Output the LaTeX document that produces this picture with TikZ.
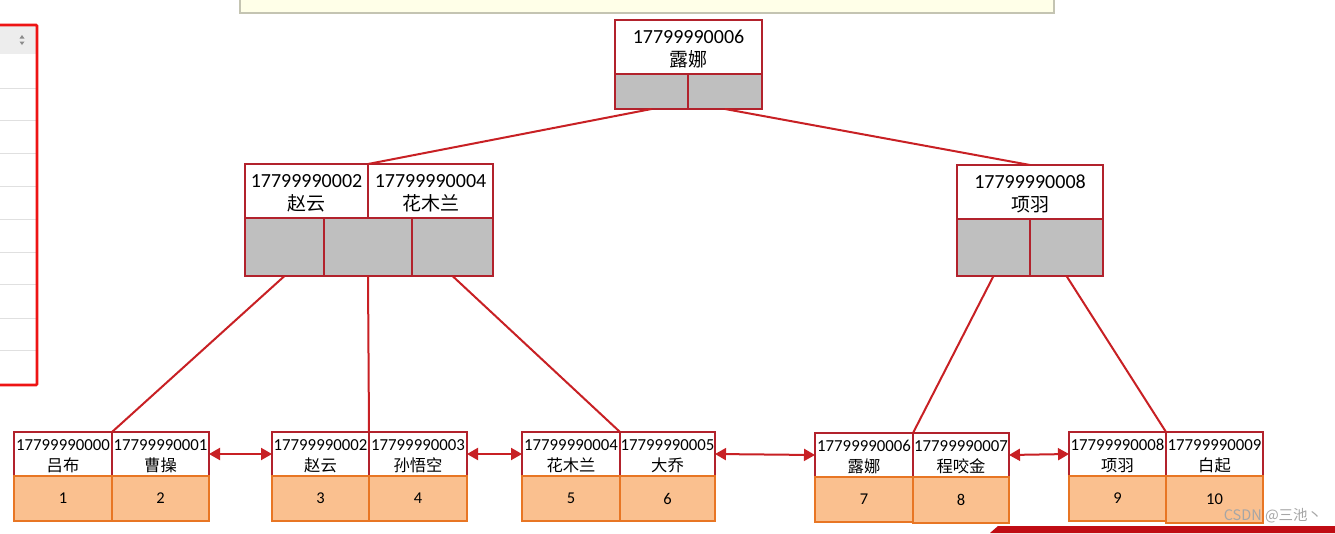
\documentclass[tikz,border=0pt]{standalone}
\usepackage{fontspec}
\setmainfont{Carlito}
\newfontfamily\cjk{Noto Sans CJK SC}
\usetikzlibrary{arrows.meta}
\definecolor{nodered}{RGB}{178,34,44}
\definecolor{linered}{RGB}{200,32,36}
\definecolor{ptrgray}{RGB}{191,191,191}
\definecolor{leaffill}{RGB}{250,192,143}
\definecolor{leafedge}{RGB}{232,118,36}
\definecolor{notefill}{RGB}{255,255,232}
\definecolor{noteedge}{RGB}{196,196,178}
\definecolor{tablered}{RGB}{238,20,20}
\definecolor{barred}{RGB}{192,12,20}
\tikzset{
  cellbase/.style={inner sep=0pt, outer sep=0pt, anchor=north west, align=center, line width=1.8pt},
  bigkey/.style={cellbase, draw=nodered, fill=white, font=\fontsize{20}{23}\selectfont},
  ptrcell/.style={cellbase, draw=nodered, fill=ptrgray},
  leafkey/.style={cellbase, draw=nodered, fill=white, font=\fontsize{16.8}{21.5}\selectfont},
  leafdata/.style={cellbase, draw=leafedge, fill=leaffill, font=\fontsize{16.5}{18}\selectfont},
  treeline/.style={draw=linered, line width=2pt},
  sibling/.style={draw=linered, line width=2pt, {Triangle[length=11pt,width=12pt]}-{Triangle[length=11pt,width=12pt]}},
}
\newcommand\bigcjk[1]{{\cjk\fontsize{19}{23}\selectfont #1}}
\newcommand\smallcjk[1]{{\cjk\fontsize{16.3}{21.5}\selectfont #1}}
\begin{document}
\begin{tikzpicture}[x=1pt,y=-1pt]
\useasboundingbox (0,0) rectangle (1335,533);
\fill[white] (0,0) rectangle (1335,533);

% ---- left table fragment ----
\fill[black!7] (-5,25) rectangle (36,54);
\foreach \yy in {88,120,153,186,219,252,284,318,350}
  \draw[black!12, line width=0.8pt] (-5,\yy) -- (36,\yy);
\fill[black!45] (19.5,38.5) -- (24.5,38.5) -- (22,35) -- cycle;
\fill[black!45] (19.5,41.5) -- (24.5,41.5) -- (22,45) -- cycle;
\draw[tablered, line width=2.6pt, rounded corners=1pt] (-5,25) rectangle (37,385);

% ---- yellow note fragment ----
\draw[noteedge, fill=notefill, line width=1.3pt] (240,-5) rectangle (1054,13);

% ---- root ----
\node[bigkey, minimum width=147, minimum height=54] (R) at (615,20) {\rule{0pt}{18pt}17799990006\\\bigcjk{露娜}};
\node[ptrcell, minimum width=73, minimum height=35] (Rp1) at (615,74) {};
\node[ptrcell, minimum width=74, minimum height=35] (Rp2) at (688,74) {};

% ---- left internal ----
\node[bigkey, minimum width=123, minimum height=54] (Ak1) at (245,164) {\rule{0pt}{18pt}17799990002\\\bigcjk{赵云}};
\node[bigkey, minimum width=125, minimum height=54] (Ak2) at (368,164) {\rule{0pt}{18pt}17799990004\\\bigcjk{花木兰}};
\node[ptrcell, minimum width=79, minimum height=58] (Ap1) at (245,218) {};
\node[ptrcell, minimum width=88, minimum height=58] (Ap2) at (324,218) {};
\node[ptrcell, minimum width=81, minimum height=58] (Ap3) at (412,218) {};

% ---- right internal ----
\node[bigkey, minimum width=146, minimum height=54] (Bk1) at (957,165) {\rule{0pt}{18pt}17799990008\\\bigcjk{项羽}};
\node[ptrcell, minimum width=73, minimum height=57] (Bp1) at (957,219) {};
\node[ptrcell, minimum width=73, minimum height=57] (Bp2) at (1030,219) {};

% ---- leaves ----
% leaf 1
\node[leafkey, minimum width=98, minimum height=44] (L1k1) at (14,432) {\rule{0pt}{15pt}17799990000\\\smallcjk{吕布}};
\node[leafkey, minimum width=97, minimum height=44] (L1k2) at (112,432) {\rule{0pt}{15pt}17799990001\\\smallcjk{曹操}};
\node[leafdata, minimum width=98, minimum height=45] (L1d1) at (14,476) {1};
\node[leafdata, minimum width=97, minimum height=45] (L1d2) at (112,476) {2};
% leaf 2
\node[leafkey, minimum width=97, minimum height=44] (L2k1) at (272,432) {\rule{0pt}{15pt}17799990002\\\smallcjk{赵云}};
\node[leafkey, minimum width=98, minimum height=44] (L2k2) at (369,432) {\rule{0pt}{15pt}17799990003\\\smallcjk{孙悟空}};
\node[leafdata, minimum width=97, minimum height=45] (L2d1) at (272,476) {3};
\node[leafdata, minimum width=98, minimum height=45] (L2d2) at (369,476) {4};
% leaf 3
\node[leafkey, minimum width=98, minimum height=44] (L3k1) at (522,432) {\rule{0pt}{15pt}17799990004\\\smallcjk{花木兰}};
\node[leafkey, minimum width=95, minimum height=44] (L3k2) at (620,432) {\rule{0pt}{15pt}17799990005\\\smallcjk{大乔}};
\node[leafdata, minimum width=98, minimum height=45] (L3d1) at (522,476) {5};
\node[leafdata, minimum width=95, minimum height=45] (L3d2) at (620,476) {6};
% leaf 4
\node[leafkey, minimum width=98, minimum height=44] (L4k1) at (815,433) {\rule{0pt}{15pt}17799990006\\\smallcjk{露娜}};
\node[leafkey, minimum width=96, minimum height=44] (L4k2) at (913,433) {\rule{0pt}{15pt}17799990007\\\smallcjk{程咬金}};
\node[leafdata, minimum width=98, minimum height=45] (L4d1) at (815,477) {7};
\node[leafdata, minimum width=96, minimum height=46] (L4d2) at (913,477) {8};
% leaf 5
\node[leafkey, minimum width=97, minimum height=44] (L5k1) at (1069,432) {\rule{0pt}{15pt}17799990008\\\smallcjk{项羽}};
\node[leafkey, minimum width=97, minimum height=44] (L5k2) at (1166,432) {\rule{0pt}{15pt}17799990009\\\smallcjk{白起}};
\node[leafdata, minimum width=97, minimum height=45] (L5d1) at (1069,476) {9};
\node[leafdata, minimum width=97, minimum height=47] (L5d2) at (1166,476) {10};

% ---- tree connectors ----
\draw[treeline] (Rp1.south) -- (Ak1.north east);
\draw[treeline] (Rp2.south) -- (Bk1.north);
\draw[treeline] (Ap1.south) -- (L1k1.north east);
\draw[treeline] (Ap2.south) -- (L2k1.north east);
\draw[treeline] (Ap3.south) -- (L3k1.north east);
\draw[treeline] (Bp1.south) -- (L4k1.north east);
\draw[treeline] (Bp2.south) -- (L5k1.north east);

% ---- sibling links ----
\draw[sibling] (L1k2.east) -- (L2k1.west);
\draw[sibling] (L2k2.east) -- (L3k1.west);
\draw[sibling] (L3k2.east) -- (L4k1.west);
\draw[sibling] (L4k2.east) -- (L5k1.west);

% ---- bottom bar and watermark ----
\fill[barred] (990,533) -- (998,526) -- (1335,526) -- (1335,533) -- cycle;
\node[text=black!35, font=\cjk\fontsize{14.5}{16}\selectfont, inner sep=0pt] (wm) at (1273,516) {CSDN @三池丶};
\end{tikzpicture}
\end{document}
